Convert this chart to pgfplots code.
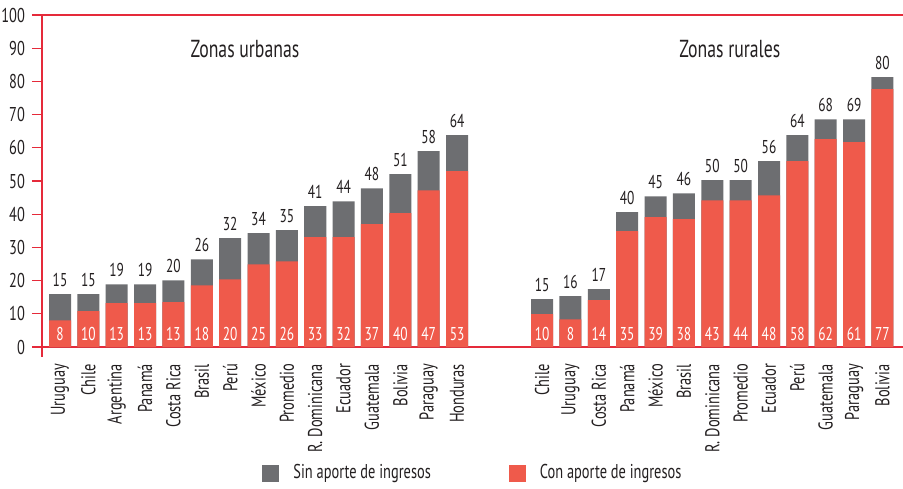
\documentclass[border=0pt]{standalone}
\usepackage{fontspec}
\setmainfont{PT Sans}[FakeStretch=0.72]
\usepackage{pgfplots}
\usepackage{pgfplotstable}
\pgfplotsset{compat=1.18}

\definecolor{barred}{HTML}{EF5A4B}
\definecolor{bargray}{HTML}{6D6E71}
\definecolor{axisred}{HTML}{E52A3A}
\definecolor{txt}{HTML}{231F20}

\newcommand\fa{\fontsize{10}{12}\selectfont}
\newcommand\fb{\fontsize{9.3}{11}\selectfont}
\newcommand\fc{\fontsize{12.3}{14}\selectfont}

% x: posicion; red: con aporte; total: altura total; lred/ltot: etiquetas
\pgfplotstableread{
x   red   total  base  lred  ltot
0   8.0   15.9   0     8     15
1   10.8  15.9   0     10    15
2   13.2  18.9   0     13    19
3   13.2  18.9   0     13    19
4   13.5  20.1   0     13    20
5   18.6  26.4   0     18    26
6   20.4  32.8   0     20    32
7   24.9  34.3   0     25    34
8   25.8  35.2   0     26    35
9   33.1  42.4   0     33    41
10  33.1  43.9   0     32    44
11  37.0  47.8   0     37    48
12  40.3  52.1   0     40    51
13  47.2  59.0   0     47    58
14  53.0  63.8   0     53    64
17  9.9   14.4   0     10    15
18  8.3   15.3   0     8     16
19  14.1  17.4   0     14    17
20  34.9  40.6   0     35    40
21  39.1  45.4   0     39    45
22  38.5  46.3   0     38    46
23  44.2  50.3   0     43    50
24  44.2  50.3   0     44    50
25  45.7  56.0   0     48    56
26  56.0  63.8   0     58    64
27  62.6  68.6   0     62    68
28  61.7  68.6   0     61    69
29  77.7  81.3   0     77    80
}\datos

\begin{document}
\begin{tikzpicture}
\path[use as bounding box] (-21pt,-70.5pt) rectangle (430.5pt,173.5pt);
\begin{axis}[
    at={(0pt,0pt)}, anchor=south west,
    width=430.5pt, height=166pt, scale only axis,
    xmin=-0.635, xmax=29.725,
    ymin=0, ymax=100,
    clip=false,
    ybar, bar width=0.776, bar shift=0pt,
    axis lines=left,
    axis line style={-, axisred, line width=0.6pt},
    tick align=outside,
    major tick length=5pt,
    ytick={0,10,...,100},
    ytick style={axisred, line width=0.6pt},
    yticklabel style={font=\fa, text=txt},
    xtick={0,1,2,3,4,5,6,7,8,9,10,11,12,13,14,17,18,19,20,21,22,23,24,25,26,27,28,29},
    xticklabels={Uruguay, Chile, Argentina, Panamá, Costa Rica, Brasil, Perú,
      México, Promedio, R. Dominicana, Ecuador, Guatemala, Bolivia, Paraguay,
      Honduras, Chile, Uruguay, Costa Rica, Panamá, México, Brasil,
      R. Dominicana, Promedio, Ecuador, Perú, Guatemala, Paraguay, Bolivia},
    xtick style={draw=none},
    xticklabel style={font=\fa, text=txt, rotate=90, anchor=east},
    /pgf/number format/assume math mode=true,
    legend image code/.code={\draw[#1, draw=none] (0pt,-4.25pt) rectangle (8.5pt,4.25pt);},
    legend columns=2,
    legend style={at={(0.2555,-0.3795)}, anchor=west, draw=none, fill=none,
      inner sep=0pt, font=\fa, text=txt, column sep=5pt,
      /tikz/every even column/.append style={column sep=37pt}},
]
\addplot[fill=bargray, draw=none,
    nodes near coords, point meta=explicit symbolic,
    nodes near coords style={font=\fb, text=txt, anchor=base, yshift=4pt, inner sep=0pt}]
    table[x=x, y=total, meta=ltot] {\datos};
\addlegendentry{Sin aporte de ingresos}
\addplot[fill=barred, draw=none]
    table[x=x, y=red] {\datos};
\addlegendentry{Con aporte de ingresos}
\addplot[draw=none, fill=none, forget plot,
    nodes near coords, point meta=explicit symbolic,
    nodes near coords style={font=\fb, text=white, anchor=base, yshift=3.5pt, inner sep=0pt}]
    table[x=x, y=base, meta=lred] {\datos};

\node[font=\fc, text=txt, anchor=base] at (axis cs:6.52,87.3) {Zonas urbanas};
\node[font=\fc, text=txt, anchor=base] at (axis cs:23.62,87.3) {Zonas rurales};
\draw[axisred, line width=0.6pt] (rel axis cs:0,1) -- (rel axis cs:1,1);
\draw[axisred, line width=0.6pt] (rel axis cs:0,0) -- ++(0pt,-5pt);
\end{axis}
\end{tikzpicture}
\end{document}
